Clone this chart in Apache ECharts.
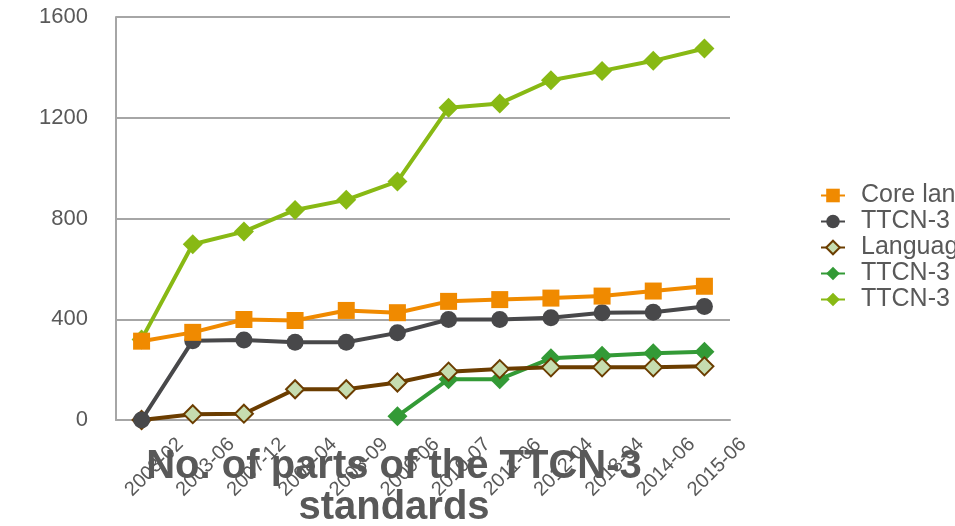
<!DOCTYPE html>
<html>
<head>
<meta charset="utf-8">
<script src="https://cdn.jsdelivr.net/npm/echarts@6/dist/echarts.min.js"></script>
<style>
  html, body { margin: 0; padding: 0; background: #fff; }
  #main { width: 955px; height: 526px; }
</style>
</head>
<body>
<div id="main"></div>
<script>
// release dates of the standard versions
const categories = ['2003-02', '2003-06', '2007-12', '2008-04', '2008-09', '2009-06',
  '2010-07', '2011-06', '2012-04', '2013-04', '2014-06', '2015-06']
const yTicks = [0, 400, 800, 1200, 1600]

// number of parts per group
const coreLanguage = [313, 348, 399, 395, 435, 426, 471, 478, 484, 492, 512, 531]
const ttcnInterfaces = [0, 315, 318, 309, 309, 346, 399, 399, 406, 426, 428, 451]
const languageMappings = [0, 23, 25, 122, 122, 149, 192, 202, 209, 209, 209, 213]
const ttcnExtensions = ['-', '-', '-', '-', '-', 15, 162, 162, 245, 255, 265, 271]
const ttcnTotal = [320, 698, 748, 834, 874, 947, 1240, 1257, 1349, 1386, 1426, 1475]

const names = ['Core language', 'TTCN-3 interfaces', 'Language mappings', 'TTCN-3 extensions', 'TTCN-3 total']

const chart = echarts.init(document.getElementById('main'))
const gray = '#595959'
const font = 'Liberation Sans, Arial, sans-serif'

function lineSeries(name, data, color, symbol, size, z, extra) {
  return Object.assign({
    name: name,
    type: 'line',
    data: data,
    symbol: symbol,
    symbolSize: size,
    z: z,
    lineStyle: { color: color, width: 4 },
    itemStyle: { color: color },
    animation: false
  }, extra || {})
}

const option = {
  animation: false,
  title: {
    text: 'No. of parts of the TTCN-3\nstandards',
    left: 389,
    top: 441,
    textAlign: 'center',
    textStyle: {
      fontFamily: font,
      fontSize: 40,
      fontWeight: 'bold',
      color: gray,
      lineHeight: 41
    },
    z: 10
  },
  legend: {
    orient: 'vertical',
    left: 815,
    top: 178,
    itemWidth: 24,
    itemHeight: 17,
    itemGap: 1,
    textStyle: { fontFamily: font, fontSize: 25, color: gray, padding: [0, 0, 0, 11] },
    data: names
  },
  grid: {
    left: 116,
    right: 225,
    top: 17,
    bottom: 106,
    containLabel: false,
    outerBoundsMode: 'none'
  },
  xAxis: {
    type: 'category',
    data: categories,
    boundaryGap: true,
    axisLine: { lineStyle: { color: '#a6a6a6', width: 2 } },
    axisTick: { show: false },
    axisLabel: {
      rotate: 45,
      interval: 0,
      align: 'center',
      verticalAlign: 'middle',
      margin: 60,
      padding: [0, 0, 0, 36],
      fontFamily: font,
      fontSize: 20,
      color: gray
    }
  },
  yAxis: {
    type: 'value',
    min: yTicks[0],
    max: yTicks[yTicks.length - 1],
    interval: 400,
    axisLine: { show: true, lineStyle: { color: '#a6a6a6', width: 2 } },
    axisTick: { show: false },
    splitLine: { lineStyle: { color: '#a6a6a6', width: 2 } },
    axisLabel: {
      margin: 28,
      fontFamily: font,
      fontSize: 22,
      color: gray,
      formatter: function (v) { return String(v) }
    }
  },
  series: [
    lineSeries(names[0], coreLanguage, '#f08a00', 'rect', 17, 6),
    lineSeries(names[1], ttcnInterfaces, '#48484a', 'circle', 17, 5),
    lineSeries(names[2], languageMappings, '#6b3d00', 'diamond', 18, 4, {
      itemStyle: { color: '#c6ddb0', borderColor: '#6b3d00', borderWidth: 2 }
    }),
    lineSeries(names[3], ttcnExtensions, '#339a36', 'diamond', 20, 3),
    lineSeries(names[4], ttcnTotal, '#88b914', 'diamond', 20, 2)
  ]
}
chart.setOption(option)
</script>
</body>
</html>
